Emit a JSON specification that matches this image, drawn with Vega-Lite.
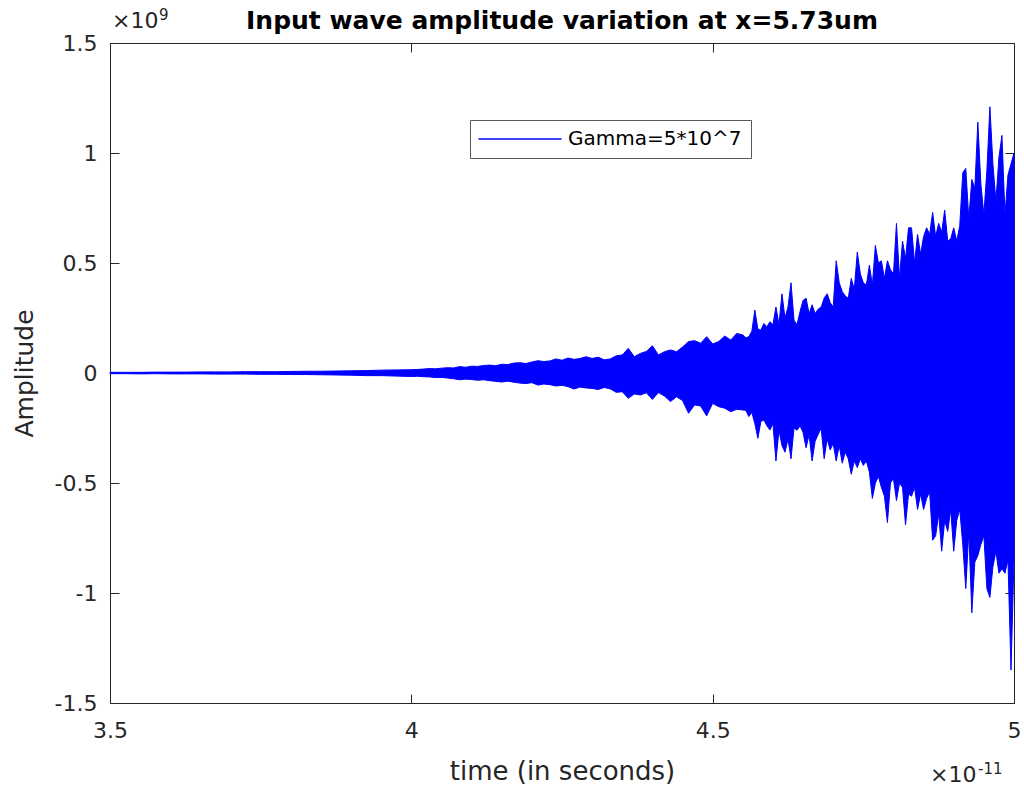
{
  "$schema": "https://vega.github.io/schema/vega-lite/v6.json",
  "width": 904,
  "height": 660,
  "autosize": {"type": "none"},
  "padding": {"left": 110, "top": 43, "right": 10, "bottom": 85},
  "background": "white",
  "config": {"view": {"stroke": "#262626", "strokeWidth": 1}, "font": "DejaVu Sans"},
  "title": {"text": "Input wave amplitude variation at x=5.73um", "fontSize": 25, "fontWeight": "bold", "font": "DejaVu Sans", "color": "black", "anchor": "middle", "frame": "group", "baseline": "alphabetic", "offset": -46},
  "datasets": {
    "signal": [
      {"time":3.5,"upper":0.003,"lower":-0.003},{"time":3.525,"upper":0.003,"lower":-0.003},{"time":3.55,"upper":0.003,"lower":-0.004},{"time":3.575,"upper":0.004,"lower":-0.003},{"time":3.6,"upper":0.004,"lower":-0.004},{"time":3.625,"upper":0.004,"lower":-0.004},{"time":3.65,"upper":0.005,"lower":-0.004},{"time":3.675,"upper":0.005,"lower":-0.005},{"time":3.7,"upper":0.005,"lower":-0.005},{"time":3.725,"upper":0.006,"lower":-0.005},{"time":3.75,"upper":0.006,"lower":-0.006},{"time":3.775,"upper":0.006,"lower":-0.006},{"time":3.8,"upper":0.007,"lower":-0.007},{"time":3.825,"upper":0.008,"lower":-0.007},{"time":3.85,"upper":0.008,"lower":-0.008},{"time":3.875,"upper":0.009,"lower":-0.009},{"time":3.9,"upper":0.01,"lower":-0.01},{"time":3.925,"upper":0.011,"lower":-0.012},{"time":3.95,"upper":0.013,"lower":-0.012},{"time":3.975,"upper":0.014,"lower":-0.014},{"time":4.0,"upper":0.015,"lower":-0.016},
      {"time":4.01,"upper":0.016,"lower":-0.015},{"time":4.02,"upper":0.018,"lower":-0.017},{"time":4.03,"upper":0.02,"lower":-0.018},{"time":4.04,"upper":0.019,"lower":-0.021},{"time":4.05,"upper":0.022,"lower":-0.02},{"time":4.06,"upper":0.024,"lower":-0.023},{"time":4.07,"upper":0.023,"lower":-0.026},{"time":4.08,"upper":0.029,"lower":-0.031},{"time":4.09,"upper":0.026,"lower":-0.028},{"time":4.1,"upper":0.031,"lower":-0.03},
      {"time":4.11,"upper":0.03,"lower":-0.033},{"time":4.12,"upper":0.034,"lower":-0.031},{"time":4.13,"upper":0.036,"lower":-0.035},{"time":4.14,"upper":0.033,"lower":-0.038},{"time":4.15,"upper":0.04,"lower":-0.041},{"time":4.16,"upper":0.038,"lower":-0.037},{"time":4.17,"upper":0.045,"lower":-0.042},{"time":4.18,"upper":0.047,"lower":-0.046},{"time":4.19,"upper":0.043,"lower":-0.048},{"time":4.2,"upper":0.05,"lower":-0.044},
      {"time":4.21,"upper":0.056,"lower":-0.055},{"time":4.22,"upper":0.052,"lower":-0.05},{"time":4.23,"upper":0.055,"lower":-0.053},{"time":4.24,"upper":0.064,"lower":-0.059},{"time":4.25,"upper":0.058,"lower":-0.056},{"time":4.26,"upper":0.068,"lower":-0.062},{"time":4.27,"upper":0.062,"lower":-0.073},{"time":4.28,"upper":0.066,"lower":-0.064},{"time":4.29,"upper":0.074,"lower":-0.068},{"time":4.3,"upper":0.066,"lower":-0.07},
      {"time":4.31,"upper":0.072,"lower":-0.075},{"time":4.32,"upper":0.06,"lower":-0.066},{"time":4.33,"upper":0.064,"lower":-0.072},{"time":4.34,"upper":0.078,"lower":-0.088},{"time":4.35,"upper":0.082,"lower":-0.085},{"time":4.36,"upper":0.112,"lower":-0.115},{"time":4.37,"upper":0.074,"lower":-0.095},{"time":4.38,"upper":0.089,"lower":-0.1},{"time":4.39,"upper":0.098,"lower":-0.09},{"time":4.4,"upper":0.124,"lower":-0.12},
      {"time":4.41,"upper":0.082,"lower":-0.089},{"time":4.42,"upper":0.097,"lower":-0.105},{"time":4.43,"upper":0.105,"lower":-0.13},{"time":4.44,"upper":0.097,"lower":-0.108},{"time":4.45,"upper":0.118,"lower":-0.125},{"time":4.46,"upper":0.143,"lower":-0.183},{"time":4.47,"upper":0.147,"lower":-0.145},{"time":4.48,"upper":0.135,"lower":-0.15},{"time":4.49,"upper":0.165,"lower":-0.195},{"time":4.5,"upper":0.132,"lower":-0.138},
      {"time":4.51,"upper":0.143,"lower":-0.153},{"time":4.52,"upper":0.168,"lower":-0.16},{"time":4.53,"upper":0.15,"lower":-0.176},{"time":4.54,"upper":0.18,"lower":-0.165},{"time":4.55,"upper":0.173,"lower":-0.168},
      {"time":4.555,"upper":0.16,"lower":-0.17},{"time":4.56,"upper":0.165,"lower":-0.198},{"time":4.565,"upper":0.19,"lower":-0.18},{"time":4.57,"upper":0.286,"lower":-0.23},{"time":4.575,"upper":0.2,"lower":-0.297},{"time":4.58,"upper":0.195,"lower":-0.22},{"time":4.585,"upper":0.225,"lower":-0.214},{"time":4.59,"upper":0.21,"lower":-0.24},{"time":4.595,"upper":0.233,"lower":-0.259},{"time":4.6,"upper":0.22,"lower":-0.23},
      {"time":4.605,"upper":0.3,"lower":-0.4},{"time":4.61,"upper":0.22,"lower":-0.26},{"time":4.615,"upper":0.36,"lower":-0.33},{"time":4.62,"upper":0.25,"lower":-0.36},{"time":4.625,"upper":0.3,"lower":-0.3},{"time":4.63,"upper":0.41,"lower":-0.39},{"time":4.635,"upper":0.24,"lower":-0.25},{"time":4.64,"upper":0.22,"lower":-0.26},{"time":4.645,"upper":0.28,"lower":-0.24},{"time":4.65,"upper":0.33,"lower":-0.27},
      {"time":4.655,"upper":0.34,"lower":-0.34},{"time":4.66,"upper":0.27,"lower":-0.28},{"time":4.665,"upper":0.31,"lower":-0.4},{"time":4.67,"upper":0.27,"lower":-0.31},{"time":4.675,"upper":0.29,"lower":-0.28},{"time":4.68,"upper":0.3,"lower":-0.25},{"time":4.685,"upper":0.34,"lower":-0.39},{"time":4.69,"upper":0.36,"lower":-0.3},{"time":4.695,"upper":0.32,"lower":-0.35},{"time":4.7,"upper":0.3,"lower":-0.32},
      {"time":4.705,"upper":0.51,"lower":-0.4},{"time":4.71,"upper":0.41,"lower":-0.33},{"time":4.715,"upper":0.37,"lower":-0.41},{"time":4.72,"upper":0.35,"lower":-0.36},{"time":4.725,"upper":0.34,"lower":-0.39},{"time":4.73,"upper":0.43,"lower":-0.46},{"time":4.735,"upper":0.38,"lower":-0.4},{"time":4.74,"upper":0.55,"lower":-0.43},{"time":4.745,"upper":0.45,"lower":-0.39},{"time":4.75,"upper":0.41,"lower":-0.42},
      {"time":4.755,"upper":0.4,"lower":-0.4},{"time":4.76,"upper":0.49,"lower":-0.45},{"time":4.765,"upper":0.4,"lower":-0.57},{"time":4.77,"upper":0.58,"lower":-0.5},{"time":4.775,"upper":0.5,"lower":-0.47},{"time":4.78,"upper":0.51,"lower":-0.52},{"time":4.785,"upper":0.43,"lower":-0.56},{"time":4.79,"upper":0.51,"lower":-0.68},{"time":4.795,"upper":0.47,"lower":-0.5},{"time":4.8,"upper":0.45,"lower":-0.48},
      {"time":4.805,"upper":0.68,"lower":-0.58},{"time":4.81,"upper":0.43,"lower":-0.5},{"time":4.815,"upper":0.6,"lower":-0.52},{"time":4.82,"upper":0.52,"lower":-0.69},{"time":4.825,"upper":0.66,"lower":-0.55},{"time":4.83,"upper":0.66,"lower":-0.56},{"time":4.835,"upper":0.5,"lower":-0.52},{"time":4.84,"upper":0.63,"lower":-0.62},{"time":4.845,"upper":0.54,"lower":-0.55},{"time":4.85,"upper":0.62,"lower":-0.62},
      {"time":4.855,"upper":0.66,"lower":-0.57},{"time":4.86,"upper":0.63,"lower":-0.54},{"time":4.865,"upper":0.73,"lower":-0.76},{"time":4.87,"upper":0.62,"lower":-0.74},{"time":4.875,"upper":0.68,"lower":-0.64},{"time":4.88,"upper":0.64,"lower":-0.81},{"time":4.885,"upper":0.74,"lower":-0.67},{"time":4.89,"upper":0.6,"lower":-0.72},{"time":4.895,"upper":0.61,"lower":-0.62},{"time":4.9,"upper":0.66,"lower":-0.81},
      {"time":4.905,"upper":0.6,"lower":-0.67},{"time":4.91,"upper":0.67,"lower":-0.62},{"time":4.915,"upper":0.91,"lower":-0.78},{"time":4.92,"upper":0.93,"lower":-0.98},{"time":4.925,"upper":0.7,"lower":-0.72},{"time":4.93,"upper":0.88,"lower":-1.09},{"time":4.935,"upper":0.84,"lower":-0.86},{"time":4.94,"upper":1.14,"lower":-0.83},{"time":4.945,"upper":0.86,"lower":-0.78},{"time":4.95,"upper":0.72,"lower":-0.74},
      {"time":4.955,"upper":0.92,"lower":-0.98},{"time":4.96,"upper":1.21,"lower":-1.02},{"time":4.965,"upper":0.95,"lower":-0.88},{"time":4.97,"upper":0.78,"lower":-0.81},{"time":4.975,"upper":0.98,"lower":-0.91},{"time":4.98,"upper":1.08,"lower":-0.89},{"time":4.985,"upper":0.72,"lower":-0.91},{"time":4.99,"upper":0.9,"lower":-0.85},{"time":4.995,"upper":0.95,"lower":-1.35},{"time":5.0,"upper":1.0,"lower":-0.85}
    ]
  },
  "layer": [
    {
      "data": {"name": "signal"},
      "mark": {"type": "area", "stroke": "#0000ff", "strokeWidth": 1, "interpolate": "linear"},
      "encoding": {
        "x": {"field": "time", "type": "quantitative", "scale": {"domain": [3.5, 5], "nice": false, "zero": false},
          "axis": {"orient": "bottom", "values": [3.5, 4, 4.5, 5], "labelExpr": "format(datum.value, '~g')", "tickSize": -9, "tickColor": "#262626", "tickWidth": 1, "domain": false, "grid": false, "labelFont": "DejaVu Sans", "labelFontSize": 22, "labelColor": "#262626", "labelPadding": 26, "labelFlush": false, "labelOverlap": false, "title": "time (in seconds)", "titleFont": "DejaVu Sans", "titleFontSize": 26, "titleFontWeight": "normal", "titleColor": "#262626", "titlePadding": 17}},
        "y": {"field": "upper", "type": "quantitative", "scale": {"domain": [-1.5, 1.5], "nice": false, "zero": false},
          "axis": {"orient": "left", "values": [-1.5, -1, -0.5, 0, 0.5, 1, 1.5], "labelExpr": "(datum.value < 0 ? '-' : '') + format(abs(datum.value), '~g')", "tickSize": -9, "tickColor": "#262626", "tickWidth": 1, "domain": false, "grid": false, "labelFont": "DejaVu Sans", "labelFontSize": 22, "labelColor": "#262626", "labelPadding": 22, "labelOverlap": false, "labelFlush": false, "title": "Amplitude", "titleFont": "DejaVu Sans", "titleFontSize": 25, "titleFontWeight": "normal", "titleColor": "#262626", "titlePadding": 17}},
        "y2": {"field": "lower"},
        "fill": {"datum": "Gamma=5*10^7", "type": "nominal", "scale": {"range": ["#0000ff"]},
          "legend": {"orient": "none", "legendX": 360, "legendY": 77, "title": null, "symbolType": "M-4.15,-0.075H4.15V0.075H-4.15Z", "symbolSize": 400, "symbolStrokeWidth": 0, "symbolFillColor": "#0000ff", "symbolOpacity": 1, "symbolOffset": 31, "labelOffset": 38, "labelFontSize": 20, "labelFont": "DejaVu Sans", "labelColor": "black", "labelLimit": 400, "padding": 9, "strokeColor": "#595959", "fillColor": "white",
            "encode": {"symbols": {"update": {"fill": {"value": "#0000ff"}, "strokeWidth": {"value": 0}, "opacity": {"value": 1}}}}}}
      }
    },
    {
      "data": {"values": [{"label": "×10"}]},
      "mark": {"type": "text", "align": "left", "baseline": "alphabetic", "dx": 2, "dy": -15, "fontSize": 22, "color": "#262626", "font": "DejaVu Sans"},
      "encoding": {
        "x": {"datum": 3.5, "type": "quantitative", "axis": {"orient": "top", "values": [3.5, 4, 4.5, 5], "labels": false, "tickSize": -9, "tickColor": "#262626", "domain": false, "grid": false, "title": null}},
        "y": {"datum": 1.5, "type": "quantitative", "axis": {"orient": "right", "values": [-1.5, -1, -0.5, 0, 0.5, 1, 1.5], "labels": false, "tickSize": -9, "tickColor": "#262626", "domain": false, "grid": false, "title": null}},
        "text": {"field": "label"}
      }
    },
    {
      "data": {"values": [{"label": "9"}]},
      "mark": {"type": "text", "align": "left", "baseline": "alphabetic", "dx": 49, "dy": -23, "fontSize": 15, "color": "#262626", "font": "DejaVu Sans"},
      "encoding": {
        "x": {"datum": 3.5, "type": "quantitative", "axis": null},
        "y": {"datum": 1.5, "type": "quantitative", "axis": null},
        "text": {"field": "label"}
      }
    },
    {
      "data": {"values": [{"label": "×10"}]},
      "mark": {"type": "text", "align": "left", "baseline": "alphabetic", "dx": -84, "dy": 79, "fontSize": 22, "color": "#262626", "font": "DejaVu Sans"},
      "encoding": {
        "x": {"datum": 5, "type": "quantitative", "axis": null},
        "y": {"datum": -1.5, "type": "quantitative", "axis": null},
        "text": {"field": "label"}
      }
    },
    {
      "data": {"values": [{"label": "-11"}]},
      "mark": {"type": "text", "align": "left", "baseline": "alphabetic", "dx": -36, "dy": 71, "fontSize": 15, "color": "#262626", "font": "DejaVu Sans"},
      "encoding": {
        "x": {"datum": 5, "type": "quantitative", "axis": null},
        "y": {"datum": -1.5, "type": "quantitative", "axis": null},
        "text": {"field": "label"}
      }
    }
  ],
  "resolve": {"axis": {"x": "independent", "y": "independent"}}
}
